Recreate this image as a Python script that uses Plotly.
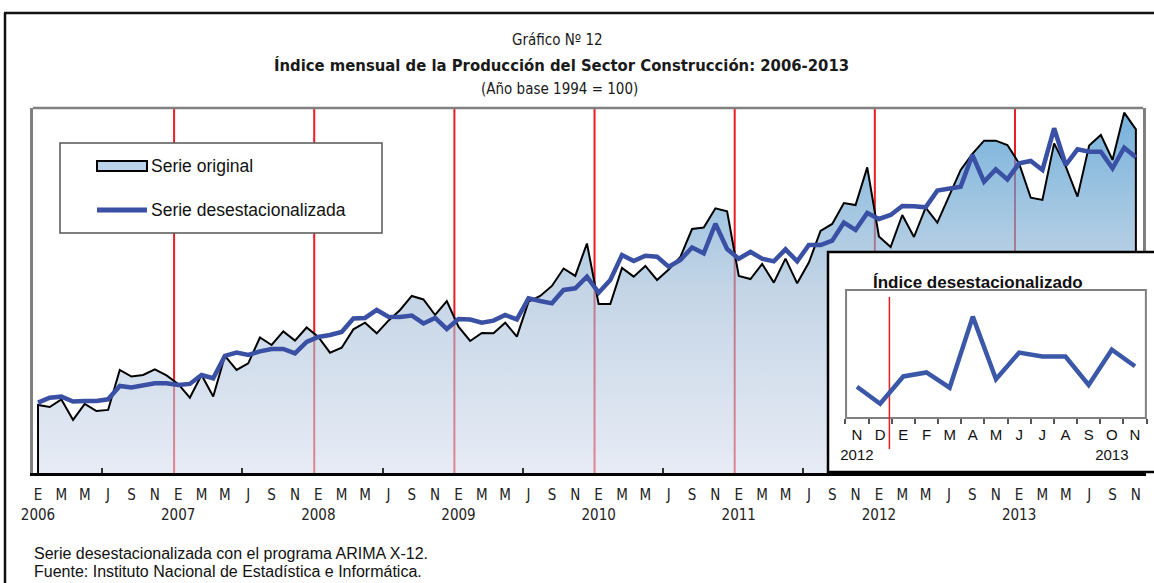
import plotly.graph_objects as go

W, H = 1154, 583

# ---------------- data ----------------
meses = ["E", "F", "M", "A", "M", "J", "J", "A", "S", "O", "N", "D"]
anio_inicial = 2006

serie_original = [
    187.8, 186.1, 192.5, 175.1, 188.7, 182.7, 183.6, 217.6, 212.0, 213.3, 218.0, 212.9,
    205.7, 194.0, 213.3, 195.0, 229.5, 217.6, 223.2, 245.2, 238.8, 250.3, 242.5, 253.7,
    245.6, 232.3, 236.5, 252.1, 257.8, 248.7, 259.5, 268.6, 280.5, 277.5, 264.3, 276.2,
    254.4, 242.2, 249.0, 248.7, 257.8, 245.9, 275.6, 280.5, 289.0, 303.8, 297.5, 325.1,
    273.7, 273.7, 304.3, 296.9, 306.0, 294.1, 303.0, 313.6, 337.4, 338.7, 355.0, 352.4,
    297.5, 294.9, 307.7, 291.8, 312.2, 291.2, 308.9, 335.7, 341.7, 359.5, 357.8, 389.8,
    331.0, 322.1, 349.3, 330.6, 355.5, 342.8, 364.9, 387.6, 401.2, 412.5, 412.5, 408.8,
    393.2, 364.0, 362.1, 410.2, 390.4, 364.9, 408.4, 417.3, 396.1, 436.3, 422.1,
]

serie_desestacionalizada = [
    189.8, 194.0, 194.9, 190.8, 191.2, 191.2, 192.6, 204.0, 202.7, 204.2, 206.2, 206.2,
    204.8, 205.7, 213.3, 210.5, 229.5, 232.3, 230.3, 233.4, 235.4, 235.4, 231.7, 241.4,
    245.6, 247.3, 249.9, 261.3, 261.8, 268.6, 262.9, 262.6, 263.9, 257.1, 261.8, 252.4,
    260.9, 260.5, 257.8, 259.5, 264.3, 260.6, 278.5, 276.2, 274.2, 285.6, 287.0, 296.9,
    283.3, 294.1, 315.3, 310.2, 314.7, 313.9, 305.4, 311.1, 321.7, 316.7, 341.9, 320.4,
    312.2, 317.9, 312.2, 309.9, 320.1, 309.9, 323.8, 323.8, 327.5, 342.8, 336.6, 351.0,
    345.9, 349.3, 357.0, 356.7, 355.8, 370.0, 372.0, 373.4, 400.3, 377.6, 388.1, 379.6,
    393.2, 395.2, 387.6, 423.0, 391.8, 405.1, 403.1, 403.1, 389.0, 406.5, 398.3,
]

inset_meses = ["N", "D", "E", "F", "M", "A", "M", "J", "J", "A", "S", "O", "N"]
inset_anios = {0: "2012", 11: "2013"}

# ---------------- helpers ----------------
def px(x):
    return x / W


def py(y):
    return 1 - y / H


n = len(serie_original)
idx = list(range(n))
YMIN, YMAX = 130.0, 440.25
XMIN, XMAX = -0.43, 94.61

BLUE = "#3a50a4"
RED = "#ec1c24"
NARROW = "Liberation Sans Narrow, Arial Narrow, DejaVu Sans Condensed, sans-serif"
ARIAL = "Liberation Sans, Arial, sans-serif"

tickvals = list(range(0, n, 2))
ticktext = []
for i in tickvals:
    t = meses[i % 12]
    if i % 12 == 0:
        t += "<br>" + str(anio_inicial + i // 12)
    ticktext.append(t)

inset_vals = serie_desestacionalizada[-len(inset_meses):]
inset_x = list(range(len(inset_meses)))
inset_text = [m + ("<br>" + inset_anios[i] if i in inset_anios else "") for i, m in enumerate(inset_meses)]

fig = go.Figure()

# original series: closed area down to axis base
fig.add_trace(go.Scatter(
    x=[idx[0]] + idx + [idx[-1]],
    y=[YMIN] + serie_original + [YMIN],
    mode="lines", fill="toself",
    line=dict(color="black", width=2),
    fillgradient=dict(
        type="vertical", start=YMIN, stop=YMAX,
        colorscale=[[0, "rgba(211,219,237,0.55)"], [0.5, "rgba(157,185,213,0.6)"],
                    [0.75, "rgba(108,166,210,0.66)"], [1, "rgba(62,145,205,0.72)"]],
    ),
    showlegend=False, hoverinfo="skip", xaxis="x", yaxis="y",
))
fig.add_trace(go.Scatter(
    x=idx, y=serie_desestacionalizada, mode="lines",
    line=dict(color=BLUE, width=4.5), showlegend=False, xaxis="x", yaxis="y",
))

# inset trace
fig.add_trace(go.Scatter(
    x=inset_x, y=inset_vals, mode="lines",
    line=dict(color="#3b57a8", width=4.5), showlegend=False, xaxis="x2", yaxis="y2",
))

X2MIN, X2MAX = -1.25, 12.82
Y2MIN, Y2MAX = 345.6, 455.2

shapes = []
# year separators (main)
for k in range(7):
    xr = 11.65 + 12 * k
    shapes.append(dict(type="line", xref="x", yref="y", x0=xr, x1=xr, y0=YMIN, y1=YMAX,
                       line=dict(color=RED, width=2), layer="below"))
# top gray frame line
shapes.append(dict(type="line", xref="paper", yref="paper", x0=px(33), x1=px(1143), y0=py(108), y1=py(108),
                   line=dict(color="#808080", width=2.5), layer="above"))
# inset white background
shapes.append(dict(type="rect", xref="x2", yref="y2", x0=X2MIN, x1=X2MAX, y0=Y2MIN, y1=Y2MAX,
                   fillcolor="white", line=dict(width=0), layer="below"))
# inset inner gray frame
shapes.append(dict(type="rect", xref="x2", yref="y2", x0=-0.47, x1=12.47, y0=372.5, y1=436.3,
                   fillcolor="rgba(0,0,0,0)", line=dict(color="#808080", width=2), layer="below"))
# inset red line
shapes.append(dict(type="line", xref="x2", yref="y2", x0=1.4, x1=1.4, y0=357.0, y1=432.8,
                   line=dict(color=RED, width=1.5), layer="below"))
# inset black border
shapes.append(dict(type="rect", xref="paper", yref="paper", x0=px(828), x1=px(1160), y0=py(472), y1=py(252),
                   line=dict(color="black", width=2.5), fillcolor="rgba(0,0,0,0)", layer="above"))
# outer frame
shapes.append(dict(type="line", xref="paper", yref="paper", x0=px(4), x1=1, y0=py(13), y1=py(13),
                   line=dict(color="#111", width=2.5), layer="above"))
shapes.append(dict(type="line", xref="paper", yref="paper", x0=px(5), x1=px(5), y0=py(13), y1=0,
                   line=dict(color="#111", width=2.5), layer="above"))
# legend box
shapes.append(dict(type="rect", xref="paper", yref="paper", x0=px(60), x1=px(382), y0=py(233), y1=py(143),
                   fillcolor="white", line=dict(color="#555", width=1.5), layer="above"))
shapes.append(dict(type="rect", xref="paper", yref="paper", x0=px(97), x1=px(147), y0=py(171), y1=py(161),
                   fillcolor="#bcd4e9", line=dict(color="black", width=2), layer="above"))
shapes.append(dict(type="line", xref="paper", yref="paper", x0=px(97), x1=px(147), y0=py(210), y1=py(210),
                   line=dict(color=BLUE, width=5), layer="above"))

annotations = [
    dict(text="Gráfico Nº 12", x=px(557), y=py(40), font=dict(family=NARROW, size=15, color="#1a1a1a")),
    dict(text="<b>Índice mensual de la Producción del Sector Construcción: 2006-2013</b>", x=px(561), y=py(65),
         font=dict(family=NARROW, size=16.5, color="#1a1a1a")),
    dict(text="(Año base 1994 = 100)", x=px(559), y=py(89), font=dict(family=NARROW, size=15, color="#1a1a1a")),
    dict(text="Serie original", x=px(149), y=py(166), xanchor="left", font=dict(family=ARIAL, size=17.5, color="#111")),
    dict(text="Serie desestacionalizada", x=px(149), y=py(210), xanchor="left",
         font=dict(family=ARIAL, size=17.5, color="#111")),
    dict(text="<b>Índice desestacionalizado</b>", x=px(978), y=py(282), font=dict(family=ARIAL, size=17, color="#111")),
    dict(text="Serie desestacionalizada con el programa ARIMA X-12.", x=px(32), y=py(553), xanchor="left",
         font=dict(family=ARIAL, size=16, color="#111")),
    dict(text="Fuente: Instituto Nacional de Estadística e Informática.", x=px(32), y=py(571), xanchor="left",
         font=dict(family=ARIAL, size=16, color="#111")),
]
for a in annotations:
    a.setdefault("xref", "paper")
    a.setdefault("yref", "paper")
    a.setdefault("showarrow", False)
    a.setdefault("xanchor", "center")
    a.setdefault("yanchor", "middle")

fig.update_layout(
    width=W, height=H,
    margin=dict(l=0, r=0, t=0, b=0, autoexpand=False),
    paper_bgcolor="white", plot_bgcolor="white",
    xaxis=dict(domain=[px(33), px(1143)], range=[XMIN, XMAX], tickmode="array",
               tickvals=tickvals, ticktext=ticktext, ticks="", showgrid=False, zeroline=False,
               showline=True, linecolor="black", linewidth=3, tickangle=0, automargin=False,
               tickfont=dict(family=NARROW, size=15, color="#222"), ticklabelstandoff=6,
               minor=dict(tickmode="linear", tick0=5.5, dtick=12, ticks="inside", ticklen=5,
                          tickcolor="#333", tickwidth=1.5, showgrid=False)),
    yaxis=dict(domain=[py(473), py(108)], range=[YMIN, YMAX], showticklabels=False, ticks="",
               automargin=False,
               showgrid=False, zeroline=False, showline=True, linecolor="#808080", linewidth=2.5, mirror=True),
    xaxis2=dict(domain=[px(828), 1], range=[X2MIN, X2MAX], anchor="free", position=py(418),
                tickmode="array", tickvals=inset_x, ticktext=inset_text, ticks="", showgrid=False,
                zeroline=False, showline=False, tickangle=0, automargin=False,
                tickfont=dict(family=ARIAL, size=15, color="#111"),
                ticklabelstandoff=6,
                minor=dict(tickmode="linear", tick0=-0.5, dtick=1, ticks="outside", ticklen=5,
                           tickcolor="#555", tickwidth=1.5, showgrid=False)),
    yaxis2=dict(domain=[py(472), py(252)], range=[Y2MIN, Y2MAX], anchor="x2", showticklabels=False,
                automargin=False,
                ticks="", showgrid=False, zeroline=False, showline=False),
    shapes=shapes, annotations=annotations,
)

fig.write_html("out.html", config={"displayModeBar": False},
               post_script="document.body.style.margin='0';document.body.style.overflow='hidden';")
